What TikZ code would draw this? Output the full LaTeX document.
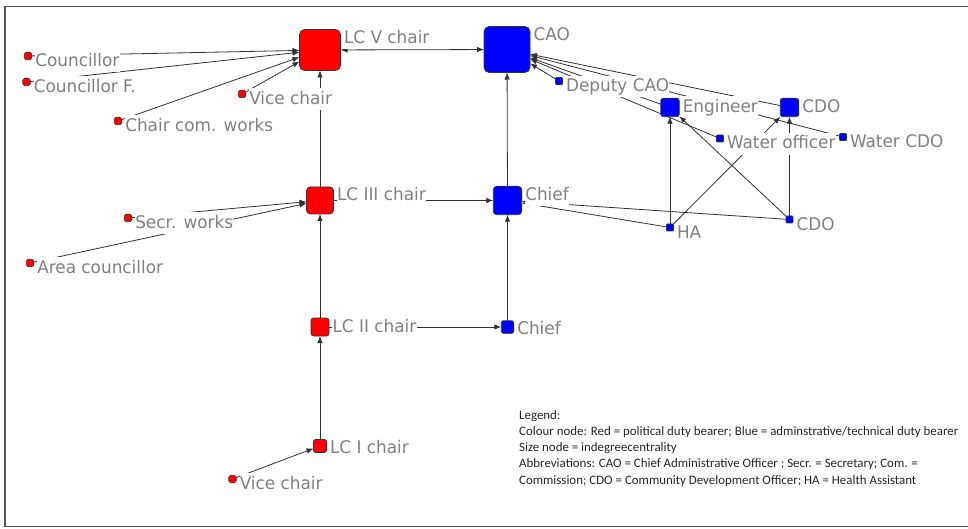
\documentclass[tikz,border=0pt]{standalone}
\usepackage{fontspec}
\newfontfamily\labfont[FakeStretch=0.97]{DejaVu Sans}
\newfontfamily\legfont{Carlito}
\usetikzlibrary{arrows.meta,backgrounds,calc}
\definecolor{polred}{RGB}{255,0,0}
\definecolor{admblue}{RGB}{0,0,255}
\definecolor{labgray}{RGB}{128,128,128}
\definecolor{edgegray}{RGB}{50,50,50}
\definecolor{framegray}{RGB}{85,85,85}
\tikzset{
  actor/.style={draw=black!80, line width=0.6pt, inner sep=0pt, outer sep=0pt},
  pol/.style={actor, fill=polred},
  adm/.style={actor, fill=admblue},
  spol/.style={pol, minimum size=7.5pt, rounded corners=1.8pt},
  sadm/.style={adm, minimum size=7pt, rounded corners=0.8pt},
  tag/.style={font=\labfont\fontsize{17.4}{20}\selectfont, text=labgray,
    fill=white, inner xsep=0.2pt, inner ysep=0.8pt, text height=15pt, text depth=5pt,
    anchor=base west},
  legline/.style={font=\legfont\fontsize{12.9}{16}\selectfont, text=black!85,
    inner sep=0pt, anchor=base west},
  link/.style={draw=edgegray, line width=0.8pt, -{Latex[length=7pt,width=5.5pt]}},
  biglink/.style={draw=edgegray, line width=0.8pt, {Latex[length=7pt,width=5.5pt]}-{Latex[length=7pt,width=5.5pt]}}
}
\begin{document}
\begin{tikzpicture}[x=1pt,y=-1pt]
\useasboundingbox (0,0) rectangle (968,529);

% political duty bearers
\node[pol, minimum size=41pt, rounded corners=5pt] (lc5) at (320,50) {};
\node[pol, minimum size=27pt, rounded corners=3.5pt] (lc3) at (320,200.5) {};
\node[pol, minimum size=18pt, rounded corners=2.5pt] (lc2) at (320,327) {};
\node[pol, minimum size=13pt, rounded corners=2pt] (lc1) at (320,446) {};
\node[spol] (cou) at (28,56) {};
\node[spol] (couf) at (26.5,82) {};
\node[spol] (ccw) at (118,121) {};
\node[spol] (vct) at (242,94) {};
\node[spol] (sw) at (128,218) {};
\node[spol] (ac) at (30,263) {};
\node[spol] (vcb) at (232.5,479) {};

% administrative / technical duty bearers
\node[adm, minimum size=46pt, rounded corners=5pt] (cao) at (507,49.5) {};
\node[adm, minimum size=28.5pt, rounded corners=3.5pt] (chu) at (507.5,200.5) {};
\node[adm, minimum size=18.5pt, rounded corners=2.5pt] (eng) at (670,107.5) {};
\node[adm, minimum size=18.5pt, rounded corners=2.5pt] (cdot) at (789.5,107.5) {};
\node[adm, minimum size=12.5pt, rounded corners=1.5pt] (chl) at (507.5,327) {};
\node[sadm] (dcao) at (559,81) {};
\node[sadm] (wo) at (720,138.5) {};
\node[sadm] (wcdo) at (843,137) {};
\node[sadm] (ha) at (670,227.5) {};
\node[sadm] (cdob) at (789.5,219.5) {};

% ties, drawn beneath the nodes and their labels
\begin{scope}[on background layer]
  \fill[white] (0,0) rectangle (968,529);
  \draw[framegray, line width=1.4pt] (5,6.5) rectangle (990,526.5);
  \draw[link] (cou) -- (lc5);
  \draw[link] (couf) -- (lc5);
  \draw[link] (ccw) -- (lc5);
  \draw[link] (vct) -- (lc5);
  \draw[link] (lc3) -- (lc5);
  \draw[biglink] (lc5) -- (cao);
  \draw[link] (sw) -- (lc3);
  \draw[link] (ac) -- (lc3);
  \draw[link] (lc2) -- (lc3);
  \draw[link] (lc1) -- (lc2);
  \draw[link] (vcb) -- (lc1);
  \draw[link] (lc3) -- (chu);
  \draw[link] (lc2) -- (chl);
  \draw[link] (chl) -- (chu);
  \draw[link] (chu) -- (cao);
  \draw[link] (dcao) -- (cao);
  \draw[link] (eng) -- (cao);
  \draw[link] (cdot) -- (cao);
  \draw[link] (wo) -- (cao);
  \draw[link] (wcdo) -- (cao);
  \draw[link] (ha) -- (chu);
  \draw[link] (cdob) -- (chu);
  \draw[link] (ha) -- (eng);
  \draw[link] (cdob) -- (eng);
  \draw[link] (ha) -- (cdot);
  \draw[link] (cdob) -- (cdot);
\end{scope}

% labels
\node[tag] (tlc5) at ($(lc5.north east)+(3.1,14)$) {LC V chair};
\node[tag] (tlc3) at ($(lc3.north east)+(3.1,14)$) {LC III chair};
\node[tag] (tlc2) at ($(lc2.north east)+(3.1,14)$) {LC II chair};
\node[tag] (tlc1) at ($(lc1.north east)+(3.1,14)$) {LC I chair};
\node[tag] (tcou) at ($(cou.north east)+(3.1,14)$) {Councillor};
\node[tag] (tcouf) at ($(couf.north east)+(3.1,14)$) {Councillor F.};
\node[tag] (tccw) at ($(ccw.north east)+(3.1,14)$) {Chair com. works};
\node[tag] (tvct) at ($(vct.north east)+(3.1,14)$) {Vice chair};
\node[tag] (tsw) at ($(sw.north east)+(3.1,14)$) {Secr. works};
\node[tag] (tac) at ($(ac.north east)+(3.1,14)$) {Area councillor};
\node[tag] (tvcb) at ($(vcb.north east)+(3.1,14)$) {Vice chair};
\node[tag] (tcao) at ($(cao.north east)+(3.1,14)$) {CAO};
\node[tag] (tchu) at ($(chu.north east)+(3.1,14)$) {Chief};
\node[tag] (teng) at ($(eng.north east)+(3.1,14)$) {Engineer};
\node[tag] (tcdot) at ($(cdot.north east)+(3.1,14)$) {CDO};
\node[tag] (tchl) at ($(chl.north east)+(3.1,14)$) {Chief};
\node[tag] (tdcao) at ($(dcao.north east)+(3.1,14)$) {Deputy CAO};
\node[tag] (two) at ($(wo.north east)+(3.1,14)$) {Water officer};
\node[tag] (twcdo) at ($(wcdo.north east)+(3.1,14)$) {Water CDO};
\node[tag] (tha) at ($(ha.north east)+(3.1,14)$) {HA};
\node[tag] (tcdob) at ($(cdob.north east)+(3.1,14)$) {CDO};

% legend
\node[legline] (leg1) at (519,419) {Legend:};
\node[legline] (leg2) at (519,435.3) {Colour node: Red = political duty bearer; Blue = adminstrative/technical duty bearer};
\node[legline] (leg3) at (519,451.6) {Size node = indegreecentrality};
\node[legline] (leg4) at (519,467.9) {Abbreviations: CAO = Chief Administrative Officer ; Secr. = Secretary; Com. =};
\node[legline] (leg5) at (519,484.2) {Commission; CDO = Community Development Officer; HA = Health Assistant};
\end{tikzpicture}
\end{document}
